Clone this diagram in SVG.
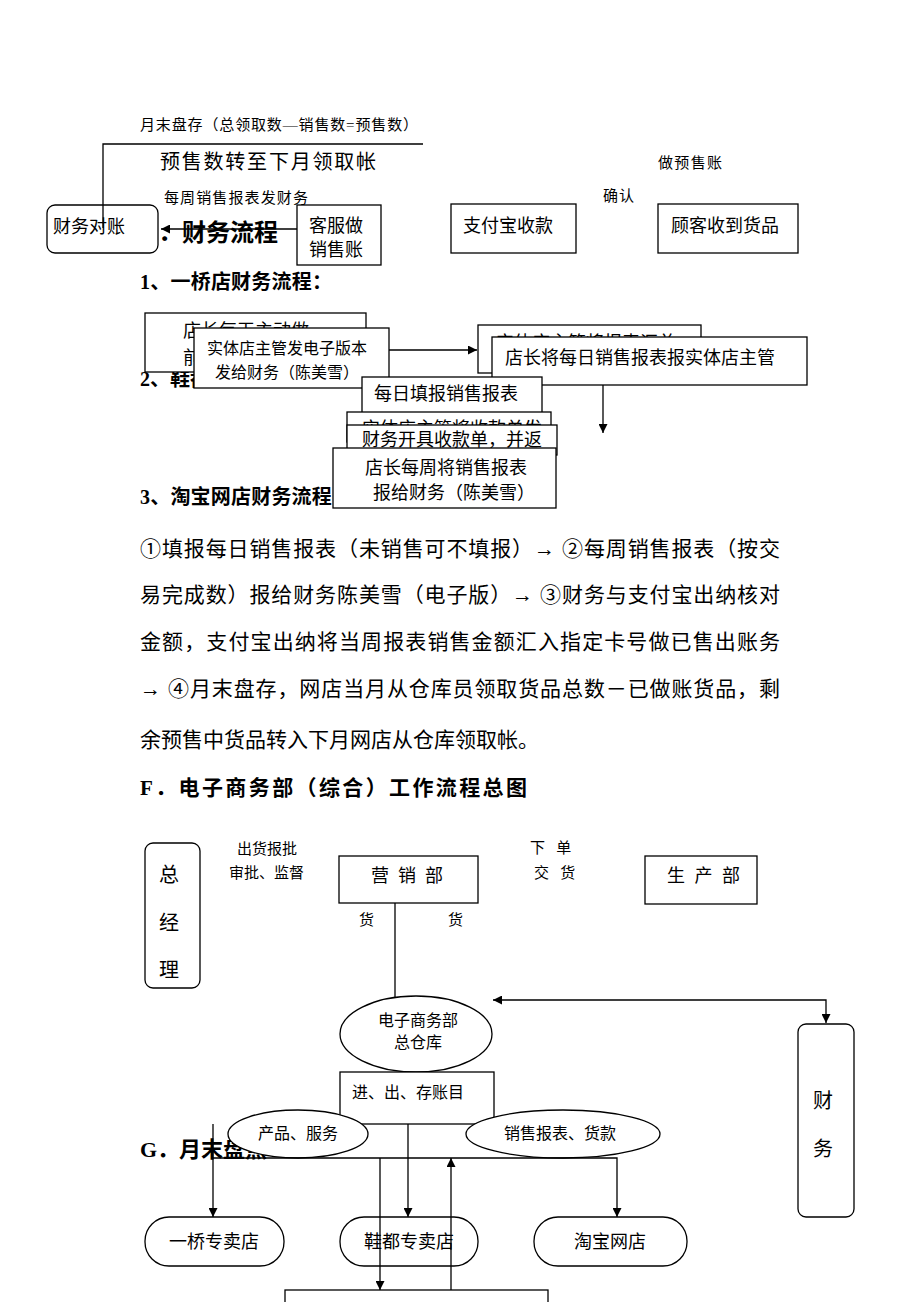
<svg xmlns="http://www.w3.org/2000/svg" width="920" height="1302" viewBox="0 0 920 1302">
<style>
text{font-family:"Liberation Serif","Noto Sans CJK SC",serif;fill:#000}
.b{font-weight:bold}
.box{fill:#fff;stroke:#000;stroke-width:1.3}
.ln{fill:none;stroke:#000;stroke-width:1.3}
.s15{font-size:15px}
.s16{font-size:16px}
.s18{font-size:18px}
.s20{font-size:20px}
.h20{font-size:20px;font-weight:bold}
.p{font-size:21px}
.m{text-anchor:middle}
</style>
<defs>
<marker id="ah" viewBox="0 0 10 10" refX="10" refY="5" markerWidth="10" markerHeight="9" markerUnits="userSpaceOnUse" orient="auto-start-reverse"><path d="M0,0 L10,5 L0,10 z" fill="#000"/></marker>
<clipPath id="clipA"><rect x="145" y="313" width="221" height="59"/></clipPath>
<clipPath id="clipC"><rect x="478" y="325" width="223" height="12"/></clipPath>
<clipPath id="clipF"><rect x="347" y="412" width="204" height="13"/></clipPath>
</defs>

<g id="page-text">
<text class="s15" x="140" y="130" textLength="278">月末盘存（总领取数—销售数=预售数）</text>
<text class="s20" x="160" y="169" textLength="216">预售数转至下月领取帐</text>
<text class="s15" x="164" y="203" textLength="144">每周销售报表发财务</text>
<text class="s15" x="658" y="168" textLength="64">做预售账</text>
<text class="s15" x="603" y="201" textLength="31">确认</text>
<text class="b" style="font-size:24px" x="142" y="241">E．财务流程</text>
<text class="h20" x="140" y="289" textLength="192">1、一桥店财务流程：</text>
<text class="h20" x="140" y="386">2、鞋都</text>
<text class="h20" x="140" y="504" textLength="212">3、淘宝网店财务流程：</text>
<text class="p" x="140" y="556" textLength="640" lengthAdjust="spacing">①填报每日销售报表（未销售可不填报）<tspan style="font-weight:bold">→</tspan> ②每周销售报表（按交</text>
<text class="p" x="140" y="602" textLength="640" lengthAdjust="spacing">易完成数）报给财务陈美雪（电子版）<tspan style="font-weight:bold">→</tspan> ③财务与支付宝出纳核对</text>
<text class="p" x="140" y="649" textLength="640" lengthAdjust="spacing">金额，支付宝出纳将当周报表销售金额汇入指定卡号做已售出账务</text>
<text class="p" x="140" y="696" textLength="640" lengthAdjust="spacing"><tspan style="font-weight:bold">→</tspan> ④月末盘存，网店当月从仓库员领取货品总数－已做账货品，剩</text>
<text class="p" x="140" y="747">余预售中货品转入下月网店从仓库领取帐。</text>
<text class="b" style="font-size:21px" x="140" y="795" textLength="387">F．电子商务部（综合）工作流程总图</text>
<text class="b" style="font-size:22px" x="140" y="1157">G．月末盘点</text>
<text class="s15" x="237" y="854">出货报批</text>
<text class="s15" x="229" y="878">审批、监督</text>
<text class="s15" x="359" y="925">货</text>
<text class="s15" x="448" y="925">货</text>
<text class="s15" x="530" y="853" xml:space="preserve">下   单</text>
<text class="s15" x="534" y="878" xml:space="preserve">交   货</text>
</g>

<g id="n-caiwu-duizhang"><rect class="box" x="47" y="205" width="111" height="48" rx="8"/><text class="s18" x="53" y="233">财务对账</text></g>
<g id="n-kefu"><rect class="box" x="297" y="205" width="84" height="60"/><text class="s18" x="309" y="232">客服做</text><text class="s18" x="309" y="256">销售账</text></g>
<g id="n-zhifubao"><rect class="box" x="451" y="204" width="125" height="49"/><text class="s18" x="463" y="232">支付宝收款</text></g>
<g id="n-guke"><rect class="box" x="658" y="204" width="140" height="49"/><text class="s18" x="671" y="232">顾客收到货品</text></g>

<g id="n-a"><rect class="box" x="145" y="313" width="221" height="59"/><text class="s18" x="183" y="337" clip-path="url(#clipA)">店长每天主动做</text><text class="s18" x="183" y="364">前</text></g>
<g id="n-b"><rect class="box" x="194" y="328" width="195" height="60"/><text class="s16" x="207" y="354">实体店主管发电子版本</text><text class="s16" x="215" y="378">发给财务（陈美雪）</text></g>
<g id="n-c"><rect class="box" x="478" y="325" width="223" height="48"/><text class="s18" x="496" y="349" clip-path="url(#clipC)">实体店主管将报表汇总</text></g>
<g id="n-d"><rect class="box" x="492" y="337" width="315" height="48"/><text class="s18" x="505" y="364">店长将每日销售报表报实体店主管</text></g>
<g id="n-e"><rect class="box" x="362" y="377" width="180" height="40"/><text class="s18" x="374" y="400">每日填报销售报表</text></g>
<g id="n-f"><rect class="box" x="347" y="412" width="204" height="30"/><text class="s18" x="362" y="435" clip-path="url(#clipF)">实体店主管将收款单发</text></g>
<g id="n-g"><rect class="box" x="347" y="425" width="210" height="30"/><text class="s18" x="362" y="446">财务开具收款单，并返</text></g>
<g id="n-h"><rect class="box" x="333" y="448" width="223" height="60"/><text class="s18" x="365" y="474">店长每周将销售报表</text><text class="s18" x="373" y="499">报给财务（陈美雪）</text></g>

<g id="n-zongjingli"><rect class="box" x="145" y="843" width="55" height="145" rx="8"/><text class="s20 m" x="169" y="882">总</text><text class="s20 m" x="169" y="930">经</text><text class="s20 m" x="169" y="977">理</text></g>
<g id="n-yingxiao"><rect class="box" x="339" y="856" width="139" height="47"/><text class="s18" x="371" y="882" textLength="72">营 销 部</text></g>
<g id="n-shengchan"><rect class="box" x="645" y="856" width="112" height="48"/><text class="s18" x="667" y="882" textLength="73">生 产 部</text></g>
<g id="n-cangku"><ellipse class="box" cx="416" cy="1034" rx="76" ry="38"/><text class="s16 m" x="418" y="1026">电子商务部</text><text class="s16 m" x="418" y="1048">总仓库</text></g>
<g id="n-caiwu"><rect class="box" x="798" y="1024" width="56" height="193" rx="8"/><text class="s20 m" x="823" y="1108">财</text><text class="s20 m" x="823" y="1156">务</text></g>
<g id="n-zhangmu"><rect class="box" x="340" y="1072" width="154" height="52"/><text class="s16" x="352" y="1098">进、出、存账目</text></g>
<g id="n-chanpin"><ellipse class="box" cx="298" cy="1134" rx="70" ry="24"/><text class="s16 m" x="298" y="1139">产品、服务</text></g>
<g id="n-xiaoshou"><ellipse class="box" cx="563" cy="1134" rx="97" ry="24"/><text class="s16 m" x="560" y="1139">销售报表、货款</text></g>
<g id="n-yiqiao"><rect class="box" x="145" y="1217" width="139" height="49" rx="24"/><text class="s18 m" x="214" y="1248">一桥专卖店</text></g>
<g id="n-xiedu"><rect class="box" x="340" y="1217" width="138" height="49" rx="24"/><text class="s18 m" x="409" y="1248">鞋都专卖店</text></g>
<g id="n-taobao"><rect class="box" x="534" y="1217" width="153" height="49" rx="24"/><text class="s18 m" x="610" y="1248">淘宝网店</text></g>
<g id="n-bottom"><rect class="box" x="285" y="1290" width="263" height="30"/></g>

<g id="connectors">
<path class="ln" d="M423,144 H103 V228"/>
<path class="ln" d="M297,229 H161" marker-end="url(#ah)"/>
<path class="ln" d="M389,350 H477" marker-end="url(#ah)"/>
<path class="ln" d="M603,385 V433" marker-end="url(#ah)"/>
<path class="ln" d="M395,903 V998"/>
<path class="ln" d="M493,1000 H826 V1023" marker-start="url(#ah)" marker-end="url(#ah)"/>
<path class="ln" d="M213,1124 V1217" marker-end="url(#ah)"/>
<path class="ln" d="M408,1124 V1217" marker-end="url(#ah)"/>
<path class="ln" d="M213,1158 H617 V1217" marker-end="url(#ah)"/>
<path class="ln" d="M380,1158 V1290" marker-end="url(#ah)"/>
<path class="ln" d="M451,1290 V1158" marker-end="url(#ah)"/>
</g>
</svg>
